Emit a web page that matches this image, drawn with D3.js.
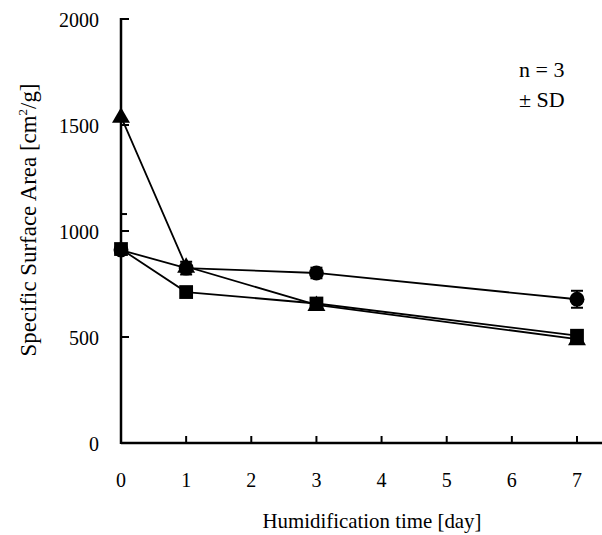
<!DOCTYPE html>
<html>
<head>
<meta charset="utf-8">
<script src="https://cdn.jsdelivr.net/npm/d3@7"></script>
<style>
  body { margin: 0; background: #fff; }
  svg text { font-family: "Liberation Serif", "Times New Roman", serif; fill: #000; }
</style>
</head>
<body>
<svg width="602" height="535"></svg>
<script>
const days = [0, 1, 3, 7];
const circleVals = [910, 825, 802, 678];
const circleSD = [0, 30, 25, 40];
const triangleVals = [1540, 832, 652, 490];
const triangleSD = [460, 0, 0, 0];
const squareVals = [915, 712, 658, 506];
const squareSD = [0, 0, 0, 0];
const xTicks = [0, 1, 2, 3, 4, 5, 6, 7];
const yTicks = [0, 500, 1000, 1500, 2000];

const svg = d3.select('svg');
const x = d3.scaleLinear().domain([0, 7]).range([121, 577]);
const y = d3.scaleLinear().domain([0, 2000]).range([443, 19]);

// axes
svg.append('line').attr('x1', x(0)).attr('x2', 602).attr('y1', y(0)).attr('y2', y(0))
   .attr('stroke', '#000').attr('stroke-width', 2.5);
svg.append('line').attr('x1', x(0)).attr('x2', x(0)).attr('y1', y(0) + 1).attr('y2', y(2000) - 1)
   .attr('stroke', '#000').attr('stroke-width', 2.5);

svg.selectAll('.xt').data(xTicks.slice(1)).join('line')
   .attr('x1', d => x(d)).attr('x2', d => x(d)).attr('y1', y(0)).attr('y2', y(0) - 7)
   .attr('stroke', '#000').attr('stroke-width', 2);
svg.selectAll('.yt').data(yTicks.slice(1)).join('line')
   .attr('x1', x(0)).attr('x2', x(0) + 8).attr('y1', d => y(d)).attr('y2', d => y(d))
   .attr('stroke', '#000').attr('stroke-width', 2);

svg.selectAll('.xl').data(xTicks).join('text')
   .attr('x', d => x(d)).attr('y', 487).attr('text-anchor', 'middle')
   .style('font-size', '20px').text(d => d);
svg.selectAll('.yl').data(yTicks).join('text')
   .attr('x', 99).attr('y', d => y(d) + 8).attr('text-anchor', 'end')
   .style('font-size', '20px').text(d => d);

const xl = svg.append('text').attr('x', 372).attr('y', 528).attr('text-anchor', 'middle')
   .style('font-size', '20px').text('Humidification time [day]');
xl.style('font-size', (20 * 219 / xl.node().getComputedTextLength()) + 'px');

const yl = svg.append('text').attr('transform', 'translate(36,220) rotate(-90)')
   .attr('text-anchor', 'middle').style('font-size', '20px');
yl.append('tspan').text('Specific Surface Area [cm');
yl.append('tspan').attr('dy', -9).style('font-size', '13px').text('2');
yl.append('tspan').attr('dy', 9).text('/g]');
const ylFs = 20 * 274 / yl.node().getComputedTextLength();
yl.style('font-size', ylFs + 'px');

svg.append('text').attr('x', 519).attr('y', 77).style('font-size', '22px').text('n = 3');
svg.append('text').attr('x', 519).attr('y', 107).style('font-size', '22px').text('± SD');

const series = [
  {vals: circleVals, sd: circleSD, shape: 'circle'},
  {vals: triangleVals, sd: triangleSD, shape: 'triangle'},
  {vals: squareVals, sd: squareSD, shape: 'square'}
];

const line = d3.line().x(d => x(d[0])).y(d => y(d[1]));
series.forEach(s => {
  const pts = days.map((d, i) => [d, s.vals[i], s.sd[i]]);
  svg.append('path').datum(pts).attr('d', line)
     .attr('fill', 'none').attr('stroke', '#000').attr('stroke-width', 1.8);

  const eb = svg.append('g');
  pts.filter(p => p[2] > 0).forEach(p => {
    eb.append('line').attr('x1', x(p[0])).attr('x2', x(p[0]))
      .attr('y1', y(p[1] + p[2])).attr('y2', y(p[1] - p[2]))
      .attr('stroke', '#000').attr('stroke-width', 2);
    [p[1] + p[2], p[1] - p[2]].forEach(v => {
      eb.append('line')
        .attr('x1', p[0] === 0 ? x(p[0]) : x(p[0]) - 6).attr('x2', x(p[0]) + 6)
        .attr('y1', y(v)).attr('y2', y(v)).attr('stroke', '#000').attr('stroke-width', 2);
    });
  });

  const sym = s.shape === 'circle' ? d3.symbolCircle : s.shape === 'triangle' ? d3.symbolTriangle : d3.symbolSquare;
  const size = s.shape === 'circle' ? 175 : s.shape === 'triangle' ? 140 : 190;
  svg.selectAll(null).data(pts).join('path')
     .attr('transform', d => `translate(${x(d[0])},${y(d[1]) + (s.shape === 'triangle' ? 1 : 0)})`)
     .attr('d', d3.symbol().type(sym).size(size))
     .attr('fill', '#000');
});
</script>
</body>
</html>
